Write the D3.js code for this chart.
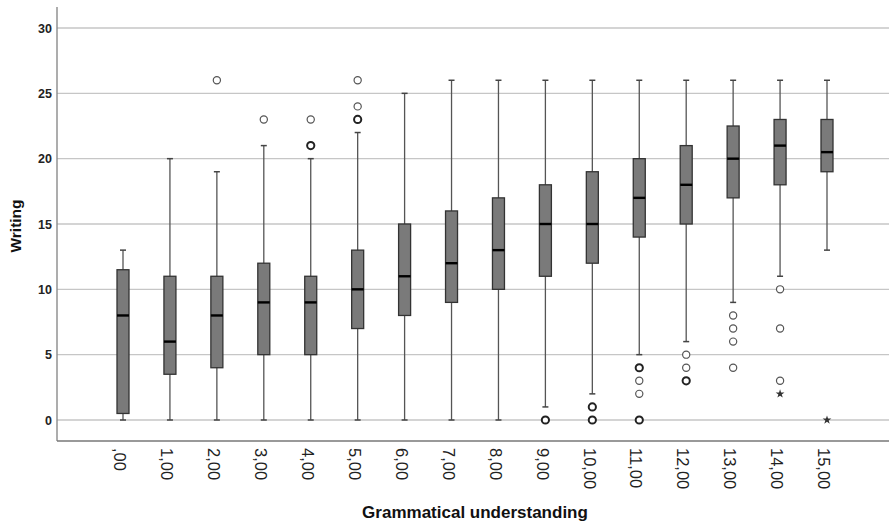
<!DOCTYPE html>
<html>
<head>
<meta charset="utf-8">
<script src="https://cdn.jsdelivr.net/npm/d3@7"></script>
<style>
  html, body { margin: 0; padding: 0; background: #fff; }
  svg { display: block; font-family: Arial, "Liberation Sans", sans-serif; }
</style>
</head>
<body>
<svg id="chart" width="889" height="526"></svg>
<script>
// category labels (Grammatical understanding)
const categories = [",00","1,00","2,00","3,00","4,00","5,00","6,00","7,00",
                    "8,00","9,00","10,00","11,00","12,00","13,00","14,00","15,00"];

// box plot statistics for Writing, one per category
const whiskerLow  = [0, 0, 0, 0, 0, 0, 0, 0, 0, 1, 2, 5, 6, 9, 11, 13];
const q1          = [0.5, 3.5, 4, 5, 5, 7, 8, 9, 10, 11, 12, 14, 15, 17, 18, 19];
const median      = [8, 6, 8, 9, 9, 10, 11, 12, 13, 15, 15, 17, 18, 20, 21, 20.5];
const q3          = [11.5, 11, 11, 12, 11, 13, 15, 16, 17, 18, 19, 20, 21, 22.5, 23, 23];
const whiskerHigh = [13, 20, 19, 21, 20, 22, 25, 26, 26, 26, 26, 26, 26, 26, 26, 26];

// outliers: [category index, value, number of overlapping cases]
const outliers = [
  [2, 26, 1],
  [3, 23, 1],
  [4, 21, 2], [4, 23, 1],
  [5, 23, 2], [5, 24, 1], [5, 26, 1],
  [9, 0, 2],
  [10, 1, 2], [10, 0, 2],
  [11, 4, 2], [11, 3, 1], [11, 2, 1], [11, 0, 2],
  [12, 5, 1], [12, 4, 1], [12, 3, 2],
  [13, 8, 1], [13, 7, 1], [13, 6, 1], [13, 4, 1],
  [14, 10, 1], [14, 7, 1], [14, 3, 1]
];
// extreme values (asterisks): [category index, value]
const extremes = [[14, 2], [15, 0]];

const yTicks = [0, 5, 10, 15, 20, 25, 30];

const svg = d3.select("#chart");
const W = 889, H = 526;
const AXIS_X = 57, AXIS_TOP = 7, AXIS_BOTTOM = 441;

const x = d3.scalePoint().domain(d3.range(categories.length)).range([123, 827]);
const y = d3.scaleLinear().domain([0, 30]).range([420, 28]);

const BOX_W = 12, CAP_W = 6;

// gridlines
svg.append("g").selectAll("line")
  .data(yTicks)
  .join("line")
  .attr("x1", AXIS_X).attr("x2", W)
  .attr("y1", d => y(d)).attr("y2", d => y(d))
  .attr("stroke", "#c6c6c6").attr("stroke-width", 1.4);

// axes lines
svg.append("line")
  .attr("x1", AXIS_X).attr("x2", AXIS_X)
  .attr("y1", AXIS_TOP).attr("y2", AXIS_BOTTOM)
  .attr("stroke", "#8a8a8a").attr("stroke-width", 1.4);
svg.append("line")
  .attr("x1", AXIS_X).attr("x2", W)
  .attr("y1", AXIS_BOTTOM).attr("y2", AXIS_BOTTOM)
  .attr("stroke", "#777").attr("stroke-width", 1.6);

// y tick labels
const yAxis = d3.axisLeft(y).tickValues(yTicks).tickSize(0).tickPadding(5).tickFormat(d3.format("d"));
const gy = svg.append("g").attr("transform", `translate(${AXIS_X},0)`).call(yAxis);
gy.select(".domain").remove();
gy.selectAll("text")
  .attr("font-size", "12.5px").attr("font-weight", "bold")
  .attr("font-family", "Arial, 'Liberation Sans', sans-serif")
  .attr("fill", "#222");

// boxes
const idx = d3.range(categories.length);
const gBox = svg.append("g");

// whiskers
gBox.selectAll("line.whisk")
  .data(idx)
  .join("line")
  .attr("class", "whisk")
  .attr("x1", i => x(i)).attr("x2", i => x(i))
  .attr("y1", i => y(whiskerLow[i])).attr("y2", i => y(whiskerHigh[i]))
  .attr("stroke", "#555").attr("stroke-width", 1.3);

// caps
[whiskerLow, whiskerHigh].forEach(arr => {
  gBox.append("g").selectAll("line")
    .data(idx)
    .join("line")
    .attr("x1", i => x(i) - CAP_W / 2).attr("x2", i => x(i) + CAP_W / 2)
    .attr("y1", i => y(arr[i])).attr("y2", i => y(arr[i]))
    .attr("stroke", "#444").attr("stroke-width", 1.5);
});

gBox.selectAll("rect")
  .data(idx)
  .join("rect")
  .attr("x", i => x(i) - BOX_W / 2)
  .attr("width", BOX_W)
  .attr("y", i => y(q3[i]))
  .attr("height", i => y(q1[i]) - y(q3[i]))
  .attr("fill", "#7a7a7a")
  .attr("stroke", "#333").attr("stroke-width", 1.3);

gBox.selectAll("line.med")
  .data(idx)
  .join("line")
  .attr("class", "med")
  .attr("x1", i => x(i) - BOX_W / 2).attr("x2", i => x(i) + BOX_W / 2)
  .attr("y1", i => y(median[i])).attr("y2", i => y(median[i]))
  .attr("stroke", "#000").attr("stroke-width", 2.4);

// outliers
svg.append("g").selectAll("circle")
  .data(outliers)
  .join("circle")
  .attr("cx", d => x(d[0]))
  .attr("cy", d => y(d[1]))
  .attr("r", 3.6)
  .attr("fill", "#fff")
  .attr("stroke", d => d[2] > 1 ? "#222" : "#555")
  .attr("stroke-width", d => d[2] > 1 ? 2 : 1.2);

// extremes
svg.append("g").selectAll("path")
  .data(extremes)
  .join("path")
  .attr("transform", d => `translate(${x(d[0])},${y(d[1])})`)
  .attr("d", d3.symbol().type(d3.symbolStar).size(24))
  .attr("fill", "#333");

// x tick labels, rotated
svg.append("g").selectAll("text")
  .data(idx)
  .join("text")
  .attr("transform", i => `translate(${x(i) - 3},448) rotate(90)`)
  .attr("dy", "0.35em")
  .attr("font-size", "16.5px")
  .attr("fill", "#222")
  .text(i => categories[i]);

// axis titles
svg.append("text")
  .attr("x", 475).attr("y", 518)
  .attr("text-anchor", "middle")
  .attr("font-size", "17px").attr("font-weight", "bold")
  .attr("fill", "#111")
  .text("Grammatical understanding");

svg.append("text")
  .attr("transform", "translate(21,226) rotate(-90)")
  .attr("text-anchor", "middle")
  .attr("font-size", "15.5px").attr("font-weight", "bold")
  .attr("fill", "#111")
  .text("Writing");
</script>
</body>
</html>
